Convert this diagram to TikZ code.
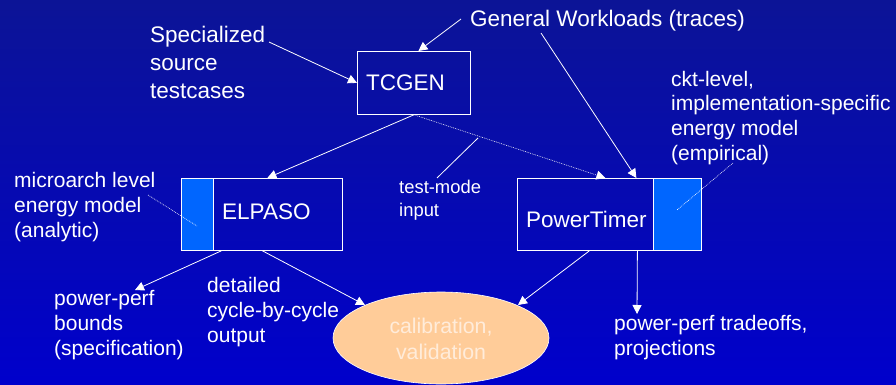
\documentclass[tikz,border=0pt]{standalone}
\usepackage{fontspec}
\setmainfont{Liberation Sans}
\usetikzlibrary{arrows.meta,calc}

\definecolor{bgtop}{RGB}{12,20,150}
\definecolor{bgmid}{RGB}{2,4,190}
\definecolor{bgbot}{RGB}{0,0,204}
\definecolor{tabblue}{RGB}{0,102,255}
\definecolor{peach}{RGB}{255,204,153}
\definecolor{peachtext}{RGB}{255,236,218}

\newcommand\bigfnt{\fontsize{22.5}{28}\selectfont}
\newcommand\midfnt{\fontsize{21}{24.6}\selectfont}
\newcommand\smallfnt{\fontsize{18.4}{23}\selectfont}

\tikzset{
  txt/.style={text=white, inner sep=0pt, anchor=base west, align=left},
  boxnode/.style={draw=white, line width=0.8pt, inner sep=0pt, anchor=north west},
  tabfill/.style={fill=tabblue, draw=white, line width=0.8pt},
  conn/.style={draw=white, line width=0.8pt},
  arr/.style={conn, -{Triangle[length=9pt,width=9pt]}},
  dots/.style={draw=white, line width=0.6pt, dash pattern=on 0.8pt off 1pt},
}

\begin{document}
\begin{tikzpicture}[x=1pt,y=-1pt]
  % background
  \shade[top color=bgtop, middle color=bgmid, bottom color=bgbot] (0,0) rectangle (896,385);
  \useasboundingbox (0,0) rectangle (896,385);

  % boxes
  \node[boxnode, minimum width=113pt, minimum height=63pt] (tcgen) at (357,51) {};
  \node[boxnode, minimum width=161pt, minimum height=72pt] (elpaso) at (181,178) {};
  \node[boxnode, minimum width=184pt, minimum height=72pt] (ptimer) at (517,178) {};

  % energy-model tabs
  \draw[tabfill] (elpaso.north west) rectangle ([xshift=32pt]elpaso.south west);
  \draw[tabfill] ([xshift=-48pt]ptimer.north east) rectangle (ptimer.south east);

  % box titles
  \node[txt, font=\bigfnt] (tcgent) at (366,91) {TCGEN};
  \node[txt, font=\bigfnt] (elpasot) at (222,219) {ELPASO};
  \node[txt, font=\bigfnt] (ptimert) at (526,227) {PowerTimer};

  % calibration ellipse
  \draw[fill=peach, draw=white, line width=0.6pt] (441,338) ellipse [x radius=108, y radius=46];
  \node[text=peachtext, inner sep=0pt, anchor=base, align=center, font=\fontsize{21.3}{26}\selectfont] (calibt) at (441,359) {calibration,\\validation};

  % labels (multi-line nodes are placed by the baseline of their last line)
  \node[txt, font=\bigfnt] (spec) at (150,99) {Specialized\\source\\testcases};
  \node[txt, font=\bigfnt] (gw) at (470,27) {General Workloads (traces)};
  \node[txt, font=\midfnt] (ckt) at (671,160) {ckt-level,\\implementation-specific\\energy model\\(empirical)};
  \node[txt, font=\midfnt] (micro) at (14,237) {microarch level\\energy model\\(analytic)};
  \node[txt, font=\smallfnt] (tmode) at (399,216) {test-mode\\input};
  \node[txt, font=\midfnt] (bounds) at (54,355) {power-perf\\bounds\\(specification)};
  \node[txt, font=\midfnt] (detail) at (207,342) {detailed\\cycle-by-cycle\\output};
  \node[txt, font=\midfnt] (trade) at (614,355) {power-perf tradeoffs,\\projections};

  % connector end points
  \coordinate (specout) at (269,42);
  \coordinate (gwleft) at (461,19);
  \coordinate (gwmid) at (541,33);
  \coordinate (tmodeup) at (437,178);
  \coordinate (tmodedot) at (478,138);
  \coordinate (cktout) at (733,163);
  \coordinate (ptab) at (677,210);
  \coordinate (microout) at (148,195);
  \coordinate (etab) at (197,226);
  \coordinate (boundsin) at (135,290);
  \coordinate (calibl) at (365,305);
  \coordinate (calibr) at (518,305);
  \coordinate (tradein) at (637,314);

  % connectors
  \draw[arr] (specout) -- (tcgen.west);
  \draw[arr] (gwleft) -- ([xshift=4.5pt]tcgen.north);
  \draw[arr] (gwmid) -- ([xshift=27pt]ptimer.north);
  \draw[arr] (tcgen.south) -- ([xshift=5.5pt]elpaso.north);
  \draw[dots, -{Triangle[length=9pt,width=9pt]}] (tcgen.south) -- ([xshift=-4pt]ptimer.north);
  \draw[conn] (tmodeup) -- (tmodedot);
  \draw[dots] (cktout) -- (ptab);
  \draw[dots] (microout) -- (etab);
  \draw[arr] ([xshift=-40.5pt]elpaso.south) -- (boundsin);
  \draw[arr] ([xshift=0.5pt]elpaso.south) -- (calibl);
  \draw[arr] ([xshift=-20pt]ptimer.south) -- (calibr);
  \draw[arr] ([xshift=28pt]ptimer.south) -- (tradein);
\end{tikzpicture}
\end{document}
